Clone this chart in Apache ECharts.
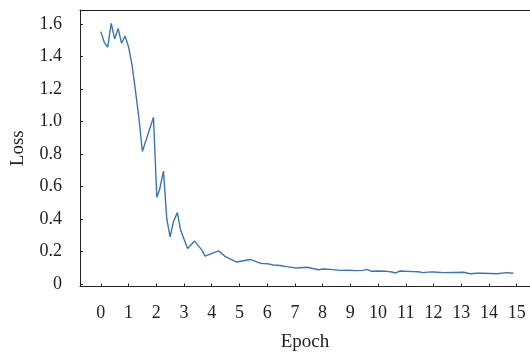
<!DOCTYPE html>
<html>
<head>
<meta charset="utf-8">
<script src="https://cdn.jsdelivr.net/npm/echarts@6/dist/echarts.min.js"></script>
<style>html,body{margin:0;padding:0;background:#fff}#c{width:530px;height:354px}</style>
</head>
<body>
<div id="c"></div>
<script>
const epochs = [0,0.125,0.25,0.375,0.5,0.625,0.75,0.875,1.0,1.125,1.25,1.375,1.5,1.9,2.02,2.12,2.26,2.38,2.5,2.62,2.76,2.88,3.13,3.38,3.64,3.76,4.25,4.5,4.9,5.39,5.77,6.0,6.22,6.47,6.7,7.07,7.43,7.65,7.85,8.05,8.27,8.63,8.9,9.23,9.45,9.59,9.77,10.0,10.31,10.5,10.64,10.79,11.0,11.27,11.45,11.63,11.8,12.0,12.36,12.7,13.08,13.2,13.32,13.55,13.8,14.05,14.28,14.64,14.88];
const loss = [1.553,1.487,1.457,1.604,1.508,1.573,1.481,1.526,1.46,1.35,1.19,1.02,0.815,1.026,0.534,0.58,0.695,0.40,0.29,0.383,0.44,0.33,0.218,0.264,0.21,0.172,0.204,0.168,0.135,0.151,0.127,0.125,0.117,0.114,0.107,0.098,0.103,0.095,0.088,0.092,0.09,0.084,0.085,0.082,0.084,0.09,0.078,0.08,0.078,0.074,0.068,0.08,0.078,0.076,0.075,0.07,0.073,0.074,0.07,0.071,0.072,0.068,0.063,0.066,0.066,0.065,0.063,0.07,0.066];
const xTicks = [0,1,2,3,4,5,6,7,8,9,10,11,12,13,14,15];
const yTicks = [0,0.2,0.4,0.6,0.8,1.0,1.2,1.4,1.6];
const xName = 'Epoch';
const yName = 'Loss';

const font = 'Liberation Serif';
const axisColor = '#222';
const chart = echarts.init(document.getElementById('c'), null, {renderer: 'canvas'});
const data = epochs.map((e, i) => [e, loss[i]]);
const xMin = -0.75, xMax = 15.48, yMin = -0.0154, yMax = 1.686;
chart.setOption({
  animation: false,
  grid: {left: 80, right: 0, top: 10, bottom: 67.5, containLabel: false, outerBoundsMode: 'none'},
  xAxis: [{
    type: 'value', min: xMin, max: xMax, position: 'bottom',
    name: xName, nameLocation: 'middle', nameGap: 46,
    nameTextStyle: {fontFamily: font, fontSize: 19, color: axisColor},
    axisLine: {show: true, onZero: false, lineStyle: {color: axisColor, width: 1}},
    axisTick: {show: true, inside: true, length: 3, customValues: xTicks, lineStyle: {color: axisColor}},
    axisLabel: {show: true, customValues: xTicks, margin: 18, fontFamily: font, fontSize: 18, color: axisColor, formatter: v => String(v)},
    splitLine: {show: false}
  }, {
    type: 'value', min: xMin, max: xMax, position: 'top',
    axisLine: {show: true, onZero: false, lineStyle: {color: axisColor, width: 1}},
    axisTick: {show: false}, axisLabel: {show: false}, splitLine: {show: false}
  }],
  yAxis: {
    type: 'value', min: yMin, max: yMax,
    name: yName, nameLocation: 'middle', nameGap: 52, nameRotate: 90,
    nameTextStyle: {fontFamily: font, fontSize: 19, color: axisColor},
    axisLine: {show: true, onZero: false, lineStyle: {color: axisColor, width: 1}},
    axisTick: {show: true, inside: true, length: 3, customValues: yTicks, lineStyle: {color: axisColor}},
    axisLabel: {show: true, customValues: yTicks, margin: 18, fontFamily: font, fontSize: 18, color: axisColor,
      formatter: v => v === 0 ? '0' : v.toFixed(1)},
    splitLine: {show: false}
  },
  series: [{
    type: 'line', xAxisIndex: 0, data: data, showSymbol: false, symbol: 'none',
    lineStyle: {color: '#3b75af', width: 1.4}
  }]
});
</script>
</body>
</html>
